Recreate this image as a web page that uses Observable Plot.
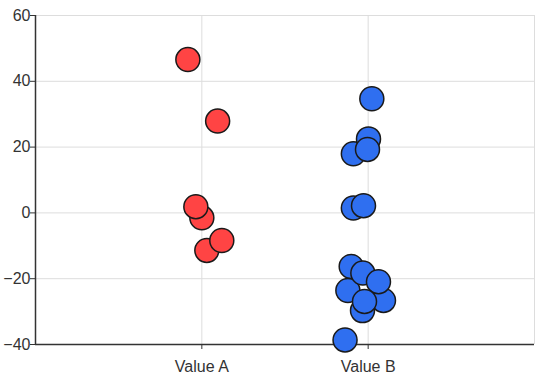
<!DOCTYPE html>
<html>
<head>
<meta charset="utf-8">
<script src="https://cdn.jsdelivr.net/npm/d3@7"></script>
<script src="https://cdn.jsdelivr.net/npm/@observablehq/plot@0.6"></script>
<style>
  html, body { margin: 0; padding: 0; background: #fff; }
  svg { display: block; }
</style>
</head>
<body>
<div id="chart"></div>
<script>
const categories = ["Value A", "Value B"];
const valuesA = [46.6, 27.9, -1.5, 1.9, -11.4, -8.4];
const jitterA = [-0.084, 0.095, 0.0, -0.036, 0.03, 0.12];
const valuesB = [34.7, 18.0, 22.5, 19.3, 1.5, 2.2, -38.6, -16.3, -23.6, -29.7, -26.6, -18.3, -20.9, -26.9];
const jitterB = [0.022, -0.089, 0.002, -0.004, -0.089, -0.028, -0.139, -0.102, -0.122, -0.034, 0.092, -0.032, 0.062, -0.022];
const yTicks = [-40, -20, 0, 20, 40, 60];
const colors = ["#ff4444", "#2f6ff0"];

const points = [
  ...valuesA.map((v, i) => ({cat: 0, x: 0 + jitterA[i], y: v})),
  ...valuesB.map((v, i) => ({cat: 1, x: 1 + jitterB[i], y: v}))
];

const chart = Plot.plot({
  width: 547,
  height: 383,
  marginLeft: 35,
  marginRight: 13,
  marginTop: 15,
  marginBottom: 39,
  style: {fontFamily: "'Liberation Sans', Arial, sans-serif", fontSize: "16px", color: "#333", background: "#fff"},
  x: {domain: [-1, 2]},
  y: {domain: [-40, 60]},
  marks: [
    Plot.gridY(yTicks, {stroke: "#dddddd", strokeOpacity: 1}),
    Plot.gridX([0, 1, 2], {stroke: "#dddddd", strokeOpacity: 1}),
    Plot.ruleX([-1], {stroke: "#333", strokeWidth: 1.5}),
    Plot.ruleY([-40], {stroke: "#333", strokeWidth: 1.5}),
    Plot.axisY(yTicks, {tickSize: 5, tickPadding: 0, label: null, stroke: "#333", fill: "#333", fontSize: 16}),
    Plot.axisX([0, 1], {tickSize: 5, tickPadding: 11, label: null, tickFormat: (d) => categories[d], stroke: "#333", fill: "#333", fontSize: 16}),
    Plot.dot(points, {x: "x", y: "y", r: 12, fill: (d) => colors[d.cat], stroke: "#1a1a1a", strokeWidth: 1.5})
  ]
});
document.getElementById("chart").appendChild(chart);
</script>
</body>
</html>
